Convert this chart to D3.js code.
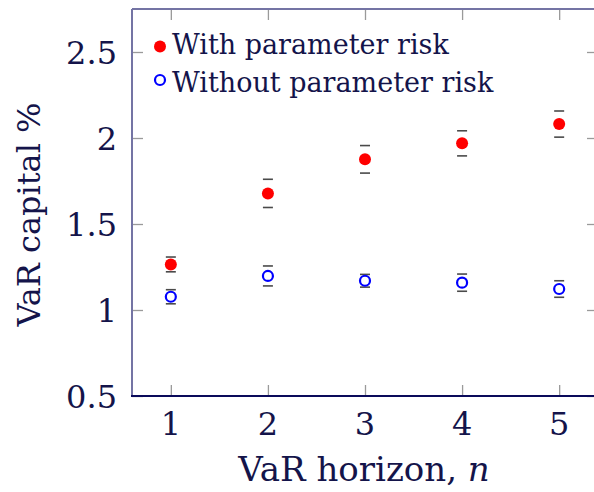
<!DOCTYPE html>
<html>
<head>
<meta charset="utf-8">
<script src="https://cdn.jsdelivr.net/npm/d3@7"></script>
<style>
  body { margin: 0; background: #fff; }
  svg text { font-family: "DejaVu Serif", "Liberation Serif", serif; fill: #14144a; }
</style>
</head>
<body>
<div id="chart"></div>
<script>
// values
var horizons = [1, 2, 3, 4, 5];
var withRisk = [1.265, 1.678, 1.876, 1.969, 2.081];
var withErr = [0.043, 0.082, 0.080, 0.073, 0.076];
var withoutRisk = [1.077, 1.198, 1.170, 1.159, 1.122];
var withoutErr = [0.041, 0.058, 0.037, 0.050, 0.048];
var yTicks = [0.5, 1, 1.5, 2, 2.5];
var yTickLabels = ["0.5", "1", "1.5", "2", "2.5"];
var legendLabels = ["With parameter risk", "Without parameter risk"];

var W = 594, H = 492;
var margin = {top: 9, left: 132, right: -4, bottom: 96};

var svg = d3.select("#chart").append("svg")
    .attr("width", W)
    .attr("height", H);

var x = d3.scaleLinear()
    .domain([0.6, 5.4])
    .range([margin.left, W - margin.right]);

var y = d3.scaleLinear()
    .domain([0.5, 2.75])
    .range([H - margin.bottom, margin.top]);

var tickLen = 11;

// inward ticks on all four sides
var xAxisB = d3.axisBottom(x).tickValues(horizons).tickSize(-tickLen).tickFormat("");
var xAxisT = d3.axisTop(x).tickValues(horizons).tickSize(-tickLen).tickFormat("");
var yAxisL = d3.axisLeft(y).tickValues(yTicks).tickSize(-tickLen).tickFormat("");
var yAxisR = d3.axisRight(y).tickValues(yTicks).tickSize(-tickLen).tickFormat("");

function styleTicks(g) {
    g.select(".domain").remove();
    g.selectAll(".tick line").attr("stroke", "#9a9a9a").attr("stroke-width", 1.3);
}

svg.append("g").attr("transform", "translate(0," + y.range()[0] + ")").call(xAxisB).call(styleTicks);
svg.append("g").attr("transform", "translate(0," + y.range()[1] + ")").call(xAxisT).call(styleTicks);
svg.append("g").attr("transform", "translate(" + x.range()[0] + ",0)").call(yAxisL).call(styleTicks);
svg.append("g").attr("transform", "translate(" + x.range()[1] + ",0)").call(yAxisR).call(styleTicks);

// frame
var x0 = x.range()[0], x1 = x.range()[1], y0 = y.range()[0], y1 = y.range()[1];
svg.append("line").attr("x1", x0).attr("x2", x1).attr("y1", y1).attr("y2", y1)
    .attr("stroke", "#7474a4").attr("stroke-width", 2);
svg.append("line").attr("x1", x1).attr("x2", x1).attr("y1", y1).attr("y2", y0)
    .attr("stroke", "#7474a4").attr("stroke-width", 2);
svg.append("line").attr("x1", x0).attr("x2", x0).attr("y1", y1).attr("y2", y0)
    .attr("stroke", "#7474a4").attr("stroke-width", 2);
svg.append("line").attr("x1", x0 - 1).attr("x2", x1).attr("y1", y0).attr("y2", y0)
    .attr("stroke", "#0a0a5a").attr("stroke-width", 2);

// tick labels
svg.selectAll(".xlab")
    .data(horizons).enter()
    .append("text")
    .attr("class", "xlab")
    .attr("x", function(d) { return x(d) })
    .attr("y", y0 + 39)
    .attr("text-anchor", "middle")
    .style("font-size", "32px")
    .text(function(d) { return d });

svg.selectAll(".ylab")
    .data(yTicks).enter()
    .append("text")
    .attr("class", "ylab")
    .attr("x", x0 - 15)
    .attr("y", function(d) { return y(d) + 12 })
    .attr("text-anchor", "end")
    .style("font-size", "32px")
    .text(function(d, i) { return yTickLabels[i] });

// axis labels
var xl = svg.append("text")
    .attr("x", (x0 + 596) / 2)
    .attr("y", 481)
    .attr("text-anchor", "middle")
    .style("font-size", "34px");
xl.append("tspan").text("VaR horizon, ");
xl.append("tspan").style("font-style", "italic").text("n");

svg.append("text")
    .attr("transform", "translate(40," + ((y0 + y1) / 2 + 12) + ") rotate(-90)")
    .attr("text-anchor", "middle")
    .style("font-size", "32px")
    .text("VaR capital %");

// error bar caps (only the caps are drawn in the reference)
function caps(vals, errs) {
    var g = svg.append("g");
    vals.forEach(function(v, i) {
        [v - errs[i], v + errs[i]].forEach(function(e) {
            g.append("line")
                .attr("x1", x(horizons[i]) - 5).attr("x2", x(horizons[i]) + 5)
                .attr("y1", y(e)).attr("y2", y(e))
                .attr("stroke", "#4a4a4a").attr("stroke-width", 1.6);
        });
    });
}
caps(withRisk, withErr);
caps(withoutRisk, withoutErr);

svg.selectAll(".red")
    .data(withRisk).enter()
    .append("circle")
    .attr("cx", function(d, i) { return x(horizons[i]) })
    .attr("cy", function(d) { return y(d) })
    .attr("r", 6)
    .attr("fill", "#ff0000");

svg.selectAll(".blue")
    .data(withoutRisk).enter()
    .append("circle")
    .attr("cx", function(d, i) { return x(horizons[i]) })
    .attr("cy", function(d) { return y(d) })
    .attr("r", 5)
    .attr("fill", "none")
    .attr("stroke", "#0000ff")
    .attr("stroke-width", 2.2);

// legend
var leg = svg.append("g");
leg.append("circle").attr("cx", 160).attr("cy", 46.5).attr("r", 6).attr("fill", "#ff0000");
leg.append("circle").attr("cx", 160).attr("cy", 80).attr("r", 5)
    .attr("fill", "none").attr("stroke", "#0000ff").attr("stroke-width", 2.2);
leg.selectAll("text")
    .data(legendLabels).enter()
    .append("text")
    .attr("x", 172)
    .attr("y", function(d, i) { return 54 + i * 37.5 })
    .style("font-size", "27px")
    .text(function(d) { return d });
</script>
</body>
</html>
